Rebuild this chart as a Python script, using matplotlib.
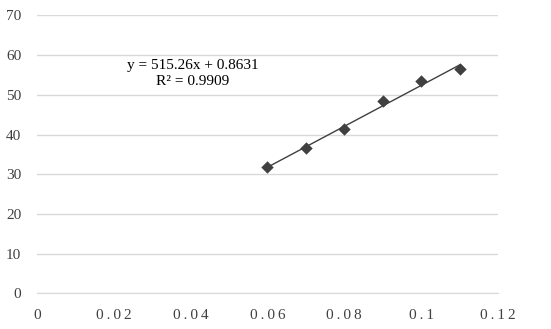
import numpy as np
import matplotlib.pyplot as plt

plt.rcParams['font.family'] = ['Liberation Serif', 'DejaVu Serif']

x = [0.06, 0.07, 0.08, 0.09, 0.10, 0.11]
y = [31.8, 36.6, 41.4, 48.4, 53.4, 56.5]
slope = 515.26
intercept = 0.8631
xticks = [0, 0.02, 0.04, 0.06, 0.08, 0.1, 0.12]
xtick_labels = ['0', '0.02', '0.04', '0.06', '0.08', '0.1', '0.12']
yticks = [0, 10, 20, 30, 40, 50, 60, 70]

fig = plt.figure(figsize=(5.51, 3.29), dpi=100)
ax = fig.add_axes([0.0666, 0.108, 0.8374, 0.845])

# trend line over the data range
xl = np.array([min(x), max(x)])
ax.plot(xl, slope * xl + intercept, color='#404040', lw=1.0, zorder=2)
ax.scatter(x, y, marker='D', s=40, color='#404040', zorder=3, linewidths=0)

ax.text(0.0406, 55.4, 'y = 515.26x + 0.8631\nR² = 0.9909', ha='center', va='center',
        fontsize=11, color='#000000', linespacing=1.25)

ax.set_xlim(0, 0.12)
ax.set_ylim(0, 70)
ax.set_xticks(xticks)
# spaced-out letters like the original
ax.set_xticklabels(['\u2009'.join(s) for s in xtick_labels])
ax.set_yticks(yticks)
ax.yaxis.grid(True, color='#d9d9d9', lw=1)
ax.set_axisbelow(True)
for s in ['top', 'right', 'left']:
    ax.spines[s].set_visible(False)
ax.spines['bottom'].set_color('#d9d9d9')
ax.tick_params(length=0, labelsize=11, colors='#404040')
ax.tick_params(axis='x', pad=11)
ax.tick_params(axis='y', pad=11)

fig.savefig('out.png', dpi=100)
